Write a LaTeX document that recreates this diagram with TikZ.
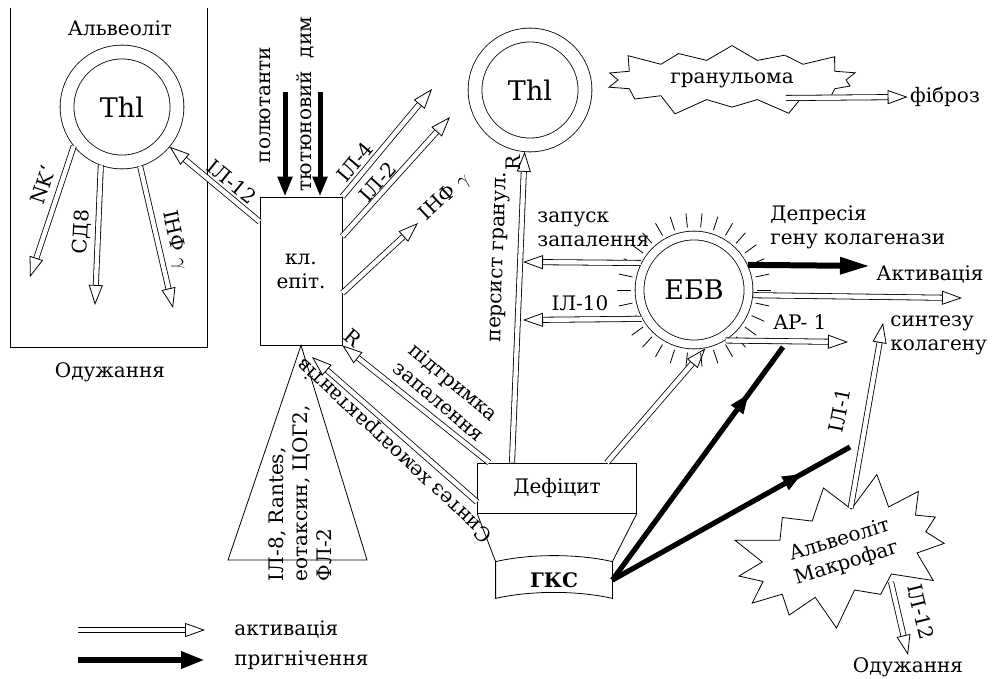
\documentclass[tikz,border=0pt]{standalone}
\usepackage{fontspec}
\setmainfont{DejaVu Serif}
\usetikzlibrary{positioning, arrows.meta, shapes.symbols, decorations.markings}

\begin{document}
\begin{tikzpicture}[
		x=0.5pt, y=-0.5pt,
		lbl/.style={font=\fontsize{10}{12}\selectfont, inner sep=1pt},
		ring/.style={circle, draw, double, double distance=6.5pt, minimum size=55pt, outer sep=3.5pt, font=\fontsize{13.5}{15}\selectfont},
		box/.style={draw, rectangle, align=center, font=\fontsize{10}{12}\selectfont},
		burst/.style={starburst, draw, align=center, font=\fontsize{10}{12}\selectfont},
		act/.style={double, double distance=2.2pt, line width=0.4pt, -{Triangle[open, length=10pt, width=7pt]}},
		inh/.style={line width=2.5pt, -{Triangle[length=10pt, width=7pt]}},
		inhmid/.style={line width=2.6pt, postaction={decorate}, decoration={markings, mark=at position 0.8 with {\arrow{Triangle[length=10pt, width=7pt]}}}},
	]
	\useasboundingbox (0,0) rectangle (995,679);

	% cells
	\node[ring] (thla) at (122,107) {Thl};
	\node[ring] (thlb) at (530,90) {Thl};
	\node[ring, double distance=4pt, minimum size=54.5pt, outer sep=2.5pt] (ebv) at (694,290) {ЕБВ};
	\node[box, minimum width=41pt, minimum height=74pt] (epi) at (301,271) {кл.\\епіт.};
	\node[box, minimum width=79.5pt, minimum height=25pt] (def) at (557,488) {Дефіцит};
	\node[font=\fontsize{10}{12}\selectfont\bfseries, minimum width=58pt, minimum height=18pt] (gks) at (554,580) {ГКС};
	\node[burst, minimum width=134pt, minimum height=30pt, starburst points=14, starburst point height=10pt] (gran) at (732,80) {гранульома};
	\node[burst, rotate=17, minimum width=114pt, minimum height=48pt, starburst points=13, starburst point height=19pt] (mac) at (843,552) {Альвеоліт\\Макрофаг};

	% left box and triangle
	\draw (10,8) -- (10,347) -- (207,347) -- (207,8);
	\draw (epi.south) -- (228,560) -- (367,560) -- cycle;
	\draw (def.south west) -- (gks.north west) (def.south east) -- (gks.north east);
	\draw (gks.north west) .. controls +(35,-8) and +(-35,-8) .. (gks.north east)
		-- (gks.south east) .. controls +(-35,-8) and +(35,-8) .. (gks.south west) -- cycle;

	% spikes of EBV
	\foreach \a in {0,12,...,348}
		\draw (ebv.center) ++(\a:63) -- ++(\a:14);

	% texts
	\node[lbl] (alv) at (120,28) {Альвеоліт};
	\node[lbl] (odl) at (110,372) {Одужання};
	\node[lbl, rotate=72] (nk) at (43,185) {NK`};
	\node[lbl, rotate=87] (cd8) at (82,232) {СД8};
	\node[lbl, rotate=-77] (infl) at (175,240) {ІНФ $\gamma$};
	\node[lbl, rotate=-39] (il12l) at (232,182) {ІЛ-12};
	\node[lbl, rotate=90] (pol) at (265,105) {полютанти};
	\node[lbl, rotate=90] (smoke) at (305,104) {тютюновий~~дим};
	\node[lbl, rotate=50] (il4) at (355,162) {ІЛ-4};
	\node[lbl, rotate=48] (il2) at (378,182) {ІЛ-2};
	\node[lbl, rotate=43] (infr) at (445,197) {ІНФ $\gamma$};
	\node[lbl, rotate=90, align=left] (chem) at (300,493) {ІЛ-8, Rantes,\\еотаксин, ЦОГ2,\\ФЛ-2};
	\node[lbl, rotate=-40] (ra) at (353,338) {R};
	\node[lbl, rotate=-40, align=left] (supp) at (447,392) {підтримка\\запалення};
	\node[lbl, rotate=137] (synch) at (395,450) {Синтез хемоатрактантів};
	\node[lbl, rotate=88] (pers) at (500,257) {персист гранул.};
	\node[lbl, rotate=90] (rb) at (513,163) {R};
	\node[lbl, align=left, anchor=west] (launch) at (535,229) {запуск\\запалення};
	\node[lbl] (il10) at (580,303) {ІЛ-10};
	\node[lbl, align=left, anchor=west] (depr) at (768,227) {Депресія\\гену колагенази};
	\node[lbl] (activ) at (930,275) {Активація};
	\node[lbl] (ap1) at (800,322) {AP- 1};
	\node[lbl, align=left, anchor=west] (synth) at (888,335) {синтезу\\колагену};
	\node[lbl, rotate=79] (il1) at (840,410) {ІЛ-1};
	\node[lbl, rotate=-76] (il12r) at (921,612) {ІЛ-12};
	\node[lbl] (odr) at (908,667) {Одужання};
	\node[lbl] (fib) at (945,97) {фіброз};
	\node[lbl, anchor=west] (lgact) at (232,630) {активація};
	\node[lbl, anchor=west] (lginh) at (232,660) {пригнічення};

	% free ends
	\coordinate (nkend) at (30,277);
	\coordinate (cdend) at (95,305);
	\coordinate (infend) at (173,308);
	\coordinate (il4end) at (432,89);
	\coordinate (il2end) at (450,117);
	\coordinate (infrend) at (418,223);
	\coordinate (pola) at (285,92);
	\coordinate (polb) at (320,92);
	\coordinate (chemend) at (312,357);
	\coordinate (launchend) at (523,262);
	\coordinate (il10end) at (523,320);
	\coordinate (deprend) at (870,266);
	\coordinate (activend) at (962,298);
	\coordinate (synthend) at (848,342);
	\coordinate (gksa) at (783,347);
	\coordinate (gksb) at (850,447);
	\coordinate (il1end) at (883,323);
	\coordinate (lga) at (78,630);
	\coordinate (lgaend) at (205,630);
	\coordinate (lgb) at (78,660);
	\coordinate (lgbend) at (205,660);

	% activation
	\foreach \i/\j in {thla.219/nkend, thla.250/cdend, thla.287/infend, epi.north east/il4end, epi.40/il2end, epi.-28/infrend, lga/lgaend}
		\draw[act] (\i) -- (\j);
	\draw[act] (epi.130) -- (thla);
	\draw[act] ([xshift=6pt]def.north west) -- (epi.south east);
	\draw[act] ([yshift=-7pt]def.west) -- (chemend);
	\draw[act] ([xshift=-22.5pt]def.north) -- (thlb.265);
	\draw[act] ([xshift=-15pt]def.north east) -- (ebv.-79);
	\draw[act] (ebv.153) -- (launchend);
	\draw[act] (ebv.209) -- (il10end);
	\draw[act] (ebv.-5) -- (activend);
	\draw[act] (ebv.-58) -- (synthend);
	\draw[act] ([xshift=27pt, yshift=-9pt]gran.center) -- (fib.west);
	\draw[act] (mac) -- (il1end);
	\draw[act] ([xshift=24pt, yshift=-15pt]mac.center) -- (odr.north);

	% inhibition
	\draw[inh] (pola) -- (pola |- epi.north);
	\draw[inh] (polb) -- (polb |- epi.north);
	\draw[inh, line width=3pt, -{Triangle[length=15pt, width=8pt]}] (ebv.25) -- (deprend);
	\draw[inh, line width=3pt, -{Triangle[length=12pt, width=8pt]}] (lgb) -- (lgbend);
	\draw[inhmid] (gks.east) -- (gksa);
	\draw[inhmid] (gks.east) -- (gksb);
\end{tikzpicture}
\end{document}
